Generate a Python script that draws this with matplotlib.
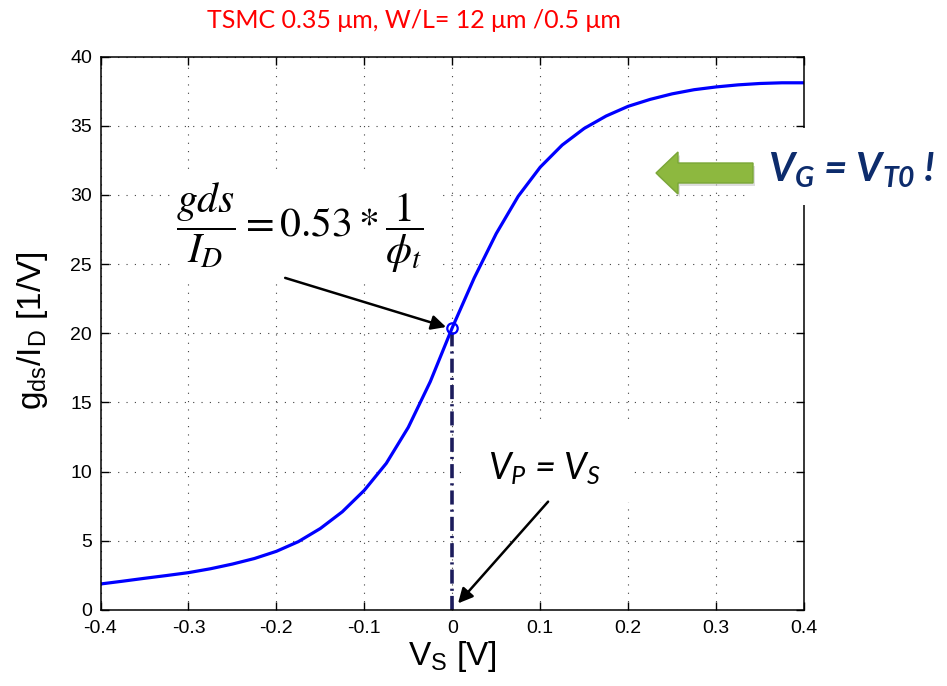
import matplotlib
matplotlib.use('Agg')
import matplotlib.pyplot as plt
from matplotlib.patches import Rectangle, FancyArrow

# ── data ──────────────────────────────────────────────────────────────────────
vs = [-0.400, -0.375, -0.350, -0.325, -0.300, -0.275, -0.250, -0.225, -0.200,
      -0.175, -0.150, -0.125, -0.100, -0.075, -0.050, -0.025, 0.000, 0.025,
      0.050, 0.075, 0.100, 0.125, 0.150, 0.175, 0.200, 0.225, 0.250, 0.275,
      0.300, 0.325, 0.350, 0.375, 0.400]
gds_id = [1.88, 2.08, 2.29, 2.49, 2.70, 2.98, 3.32, 3.72, 4.24,
          4.94, 5.89, 7.10, 8.65, 10.6, 13.2, 16.5, 20.4, 24.0,
          27.2, 29.9, 32.0, 33.6, 34.8, 35.7, 36.4, 36.9, 37.3, 37.6,
          37.8, 37.95, 38.05, 38.1, 38.1]
vp_x = 0.0      # pinch-off point V_P = V_S
vp_y = 20.4     # 0.53 / phi_t

xticks = [-0.4, -0.3, -0.2, -0.1, 0, 0.1, 0.2, 0.3, 0.4]
xticklabels = ['-0.4', '-0.3', '-0.2', '-0.1', '0', '0.1', '0.2', '0.3', '0.4']
yticks = [0, 5, 10, 15, 20, 25, 30, 35, 40]

title_txt = 'TSMC 0.35 μm, W/L= 12 μm /0.5 μm'

# ── fonts ─────────────────────────────────────────────────────────────────────
plt.rcParams['font.family'] = ['Liberation Sans', 'DejaVu Sans']
plt.rcParams['mathtext.fontset'] = 'custom'
plt.rcParams['mathtext.rm'] = 'Lato'
plt.rcParams['mathtext.it'] = 'Lato:italic'
plt.rcParams['mathtext.bf'] = 'Lato:italic:bold'

W, H = 947, 686
fig = plt.figure(figsize=(W / 100, H / 100), dpi=100)
ax = fig.add_axes([100.5 / W, (H - 610) / H, (804 - 100.5) / W, (610 - 56.5) / H])

ax.plot(vs, gds_id, color='#0000ff', lw=2.3, zorder=2)
ax.plot([vp_x, vp_x], [0, vp_y], color='#1c1c5c', lw=2.6,
        linestyle=(0, (3.9, 1.4, 0.6, 1.4)), zorder=2)
ax.plot([vp_x], [vp_y], 'o', mfc='none', mec='#0000ff', mew=1.6, ms=7.5, zorder=3)

ax.set_xlim(-0.4, 0.4)
ax.set_ylim(0, 40)
ax.set_xticks(xticks)
ax.set_xticklabels(xticklabels)
ax.set_yticks(yticks)
ax.tick_params(direction='in', length=6, width=1, top=True, right=True,
               labelsize=14, pad=6)
ax.tick_params(axis='x', pad=7)
for s in ax.spines.values():
    s.set_linewidth(1.1)
ax.grid(True, color='#404040', lw=0.8, linestyle=(0, (1, 6.5)))

ax.set_xlabel(r'$\mathregular{V_S}$ [V]', fontsize=24, labelpad=2)
ax.set_ylabel(r'$\mathregular{g_{ds}/I_D}$ [1/V]', fontsize=24)
ax.yaxis.set_label_coords(-0.072, 0.505)

# white boxes behind the annotations (they hide the grid)
for x0, y0, x1, y1 in [(172, 282, 436, 175), (464, 502, 632, 425), (745, 205, 947, 128)]:
    ax.add_patch(Rectangle((x0 / 100, (H - y0) / 100), (x1 - x0) / 100, (y0 - y1) / 100,
                           transform=fig.dpi_scale_trans, facecolor='white',
                           edgecolor='none', clip_on=False, zorder=3))

# black arrows
arrow_kw = dict(arrowstyle='-|>', color='black', lw=1.8, mutation_scale=22,
                shrinkA=0, shrinkB=0)
ax.annotate('', xy=(-0.007, 20.45), xytext=(-0.19, 24.0), arrowprops=arrow_kw, zorder=4)
ax.annotate('', xy=(0.0066, 0.48), xytext=(0.109, 7.83), arrowprops=arrow_kw, zorder=4)

# equation
fig.text(300 / W, (H - 228) / H, r'$\dfrac{gds}{I_D} = 0.53*\dfrac{1}{\phi_t}$',
         math_fontfamily='stix', fontsize=30, ha='center', va='center', zorder=5)

# V_P = V_S
fig.text(488 / W, (H - 479) / H, r'$V_P$ = $V_S$', family='Lato', style='italic',
         math_fontfamily='custom', fontsize=26, ha='left', va='baseline', zorder=5)

# green arrow + V_G = V_T0 !
fig.add_artist(FancyArrow(7.55, (H - 176) / 100, -0.97, 0, width=0.20, head_width=0.42,
                          head_length=0.22, length_includes_head=True,
                          transform=fig.dpi_scale_trans, facecolor='#c8c8c8',
                          edgecolor='none', alpha=0.6, zorder=4))
fig.add_artist(FancyArrow(7.53, (H - 173) / 100, -0.97, 0, width=0.20, head_width=0.42,
                          head_length=0.22, length_includes_head=True,
                          transform=fig.dpi_scale_trans, facecolor='#8db83f',
                          edgecolor='#7aa637', lw=1, zorder=5))
fig.text(768 / W, (H - 182) / H, r'$\mathbf{V_G}$ = $\mathbf{V_{T0}}$ !', family='Lato',
         style='italic', weight='bold', math_fontfamily='custom', fontsize=29,
         color='#0d2c6c', ha='left', va='baseline', zorder=5)

# title
fig.text(414 / W, (H - 28) / H, title_txt, family='Lato', color='#ff0000',
         fontsize=18, ha='center', va='baseline')

fig.savefig('out.png', dpi=100)
